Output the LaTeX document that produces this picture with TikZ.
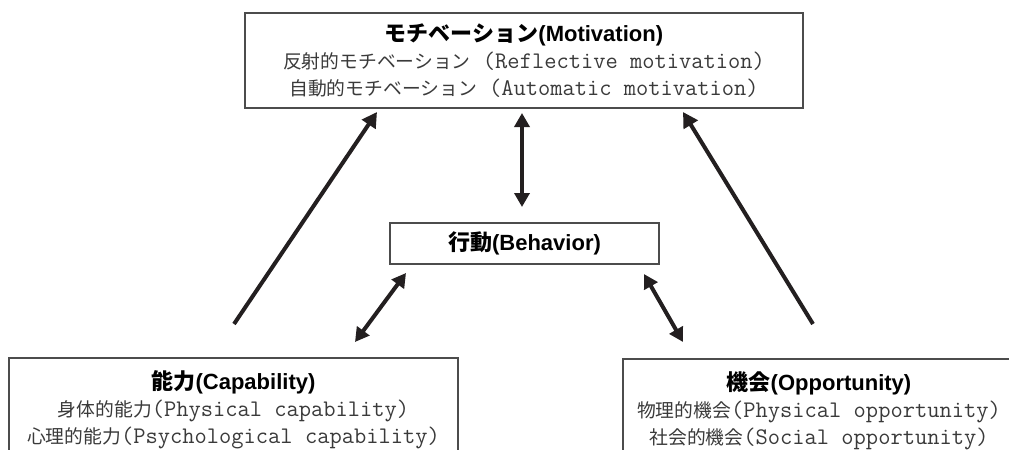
\documentclass[tikz,border=0pt]{standalone}
\usepackage{fontspec}
\usetikzlibrary{arrows.meta}
\newfontfamily\jpfont{Noto Sans CJK JP}
\newfontfamily\lsans{Liberation Sans}
\definecolor{ink}{HTML}{231F20}
\definecolor{subgray}{HTML}{3A3A3A}
% title line: bold gothic + bold sans
\newcommand{\boxtitle}[2]{{\jpfont\bfseries\fontsize{11}{13.5}\selectfont #1}{\lsans\bfseries\fontsize{11}{13.5}\selectfont #2}}
% sub line: CJK + mono latin
\newcommand{\boxline}[2]{{\color{subgray}{\jpfont\fontsize{9.4}{13.5}\selectfont #1}{\ttfamily\fontsize{11.9}{13.5}\selectfont #2}}}
\begin{document}
\begin{tikzpicture} [
                x=0.5pt, y=-0.5pt,
                block/.style={draw=black!70,line width=0.8pt,align=center,inner sep=0pt,
                              font=\fontsize{10}{13.5}\selectfont},
                link/.style = {draw=ink,line width=2pt},
                onehead/.style = {-{Triangle[length=7.5pt,width=8pt]}},
                twohead/.style = {{Triangle[length=7pt,width=7.5pt]}-{Triangle[length=7pt,width=7.5pt]}},
            ]
            \useasboundingbox (0,0) rectangle (1009,450);
            \clip (0,0) rectangle (1009,450);
            \node[block,minimum width=279pt,minimum height=47.5pt] (motiv) at (524,60.5)
                {\boxtitle{モチベーション}{(Motivation)}\\
                 \boxline{反射的モチベーション}{ (Reflective motivation)}\\
                 \boxline{自動的モチベーション}{ (Automatic motivation)}};
            \node[block,minimum width=134.5pt,minimum height=20.5pt] (behav) at (524.5,243.5)
                {\boxtitle{行動}{(Behavior)}};
            \node[block,minimum width=224.5pt,minimum height=52pt] (capab) at (233.5,410)
                {\boxtitle{能力}{(Capability)}\\
                 \boxline{身体的能力}{(Physical capability)}\\
                 \boxline{心理的能力}{(Psychological capability)}};
            \node[block,minimum width=196pt,minimum height=52pt] (oppor) at (819,411)
                {\boxtitle{機会}{(Opportunity)}\\
                 \boxline{物理的機会}{(Physical opportunity)}\\
                 \boxline{社会的機会}{(Social opportunity)}};
            % arrow ends
            \coordinate (capA) at (234,324);
            \coordinate (motA) at (377,112);
            \coordinate (oppA) at (813,324);
            \coordinate (motB) at (683,112);
            \coordinate (motC) at (522,113);
            \coordinate (behA) at (522,207);
            \coordinate (capB) at (355,342);
            \coordinate (behB) at (406,273);
            \coordinate (oppB) at (683,342);
            \coordinate (behC) at (644,274);
            \path[link,onehead] (capA) -- (motA);
            \path[link,onehead] (oppA) -- (motB);
            \path[link,twohead] (motC) -- (behA);
            \path[link,twohead] (capB) -- (behB);
            \path[link,twohead] (oppB) -- (behC);
        \end{tikzpicture}
\end{document}
